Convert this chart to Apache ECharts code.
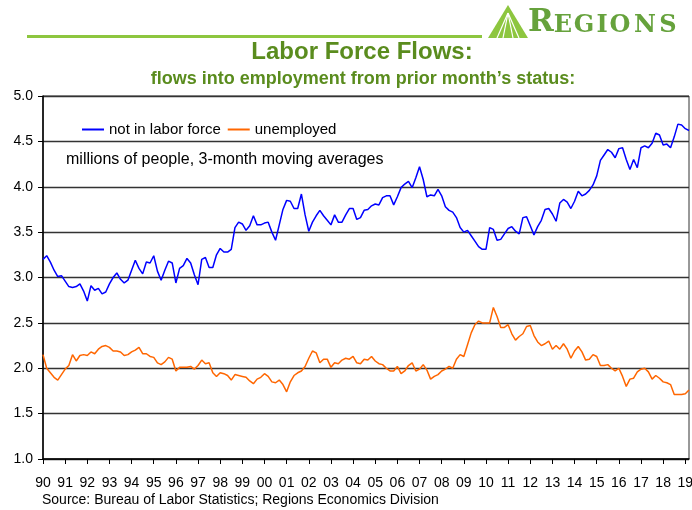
<!DOCTYPE html>
<html>
<head>
<meta charset="utf-8">
<script src="https://cdn.jsdelivr.net/npm/echarts@6/dist/echarts.min.js"></script>
<style>
  html, body { margin: 0; padding: 0; background: #fff; }
  #chart { width: 692px; height: 510px; }
</style>
</head>
<body>
<div id="chart"></div>
<script>
// two-month steps, Jan 1990 .. Mar 2019
var yearLabels = ['90','91','92','93','94','95','96','97','98','99','00','01','02','03','04',
  '05','06','07','08','09','10','11','12','13','14','15','16','17','18','19'];
var stepsPerYear = 6;

var notInLaborForce = [
  3.20,3.24,3.17,3.08,3.01,3.02, 2.96,2.90,2.89,2.90,2.93,2.85,
  2.74,2.91,2.86,2.88,2.82,2.84, 2.93,3.00,3.05,2.98,2.94,2.97,
  3.08,3.19,3.10,3.04,3.17,3.16, 3.24,3.07,2.97,3.08,3.18,3.16,
  2.94,3.10,3.13,3.21,3.16,3.03, 2.92,3.20,3.22,3.11,3.11,3.25,
  3.32,3.28,3.28,3.31,3.55,3.61, 3.59,3.52,3.57,3.68,3.58,3.58,
  3.60,3.61,3.50,3.41,3.58,3.75, 3.85,3.84,3.76,3.76,3.92,3.69,
  3.51,3.61,3.68,3.74,3.68,3.63, 3.58,3.69,3.61,3.61,3.69,3.76,
  3.76,3.64,3.66,3.74,3.75,3.79, 3.81,3.80,3.88,3.90,3.90,3.80,
  3.89,3.99,4.03,4.06,3.99,4.10, 4.22,4.08,3.89,3.91,3.90,3.97,
  3.90,3.78,3.74,3.72,3.66,3.55, 3.50,3.52,3.46,3.40,3.34,3.31,
  3.31,3.55,3.53,3.41,3.42,3.48, 3.54,3.56,3.51,3.48,3.66,3.67,
  3.57,3.47,3.56,3.63,3.75,3.76, 3.70,3.62,3.82,3.86,3.83,3.76,
  3.84,3.95,3.90,3.92,3.96,4.02, 4.12,4.29,4.35,4.41,4.38,4.32,
  4.42,4.43,4.30,4.19,4.30,4.21, 4.43,4.45,4.43,4.48,4.59,4.57,
  4.46,4.47,4.43,4.55,4.69,4.68, 4.64,4.62
];

var unemployed = [
  2.15,2.00,1.95,1.90,1.87,1.93, 1.99,2.03,2.15,2.08,2.14,2.15,
  2.14,2.18,2.16,2.21,2.24,2.25, 2.23,2.19,2.19,2.18,2.14,2.15,
  2.18,2.20,2.23,2.16,2.16,2.13, 2.12,2.06,2.04,2.07,2.12,2.10,
  1.97,2.01,2.01,2.01,2.02,1.99, 2.03,2.09,2.05,2.06,1.95,1.91,
  1.95,1.94,1.92,1.87,1.93,1.92, 1.91,1.90,1.86,1.83,1.88,1.90,
  1.94,1.91,1.85,1.84,1.87,1.82, 1.74,1.85,1.92,1.95,1.97,2.02,
  2.11,2.19,2.17,2.06,2.10,2.10, 2.01,2.06,2.05,2.09,2.11,2.10,
  2.13,2.06,2.05,2.10,2.09,2.13, 2.08,2.05,2.04,2.00,1.97,1.97,
  2.02,1.94,1.97,2.03,2.06,1.97, 1.99,2.04,1.98,1.88,1.91,1.93,
  1.97,1.99,2.02,2.00,2.10,2.15, 2.13,2.26,2.39,2.48,2.52,2.50,
  2.50,2.50,2.67,2.57,2.45,2.45, 2.48,2.38,2.31,2.35,2.38,2.46,
  2.47,2.36,2.29,2.25,2.27,2.30, 2.21,2.25,2.21,2.27,2.21,2.11,
  2.19,2.24,2.18,2.09,2.10,2.15, 2.13,2.03,2.03,2.04,2.00,1.97,
  2.00,1.91,1.80,1.88,1.89,1.96, 1.99,2.00,1.96,1.88,1.92,1.89,
  1.85,1.84,1.82,1.71,1.71,1.71, 1.72,1.76
];

var categories = notInLaborForce.map(function (v, i) {
  return yearLabels[Math.floor(i / stepsPerYear)] + '-' + (i % stepsPerYear);
});

var FONT = '"Liberation Sans", Arial, sans-serif';
var SERIF = '"DejaVu Serif", "Liberation Serif", serif';
var chart = echarts.init(document.getElementById('chart'));

function isYearStart(i) { return i % stepsPerYear === 0; }

// logo letters, small caps
var logoLetters = [
  ['R', 541, 31], ['E', 563, 24], ['G', 584, 24], ['I', 602, 24],
  ['O', 620, 24], ['N', 645, 24], ['S', 668, 24]
];
var logo = logoLetters.map(function (l) {
  return { type: 'text', x: l[1], y: 38, style: { text: l[0], align: 'center', verticalAlign: 'bottom',
    fontFamily: SERIF, fontWeight: 'bold', fontSize: l[2], fill: '#66a23c' } };
});

var option = {
  animation: false,
  backgroundColor: '#fff',
  grid: { left: 43, right: 3, top: 96, bottom: 51, outerBoundsMode: 'none', containLabel: false,
    show: true, borderColor: '#333', borderWidth: 1 },
  legend: {
    left: 77, top: 117, icon: 'rect', itemWidth: 22, itemHeight: 2, itemGap: 7,
    textStyle: { fontFamily: FONT, fontSize: 15, color: '#000' },
    data: ['not in labor force', 'unemployed']
  },
  xAxis: {
    type: 'category', data: categories, boundaryGap: false,
    axisLine: { lineStyle: { color: '#000', width: 1.5 } },
    axisTick: { interval: isYearStart, length: 5, lineStyle: { color: '#000' } },
    axisLabel: {
      interval: isYearStart, align: 'center', margin: 17,
      fontFamily: FONT, fontSize: 14, color: '#000',
      formatter: function (v) { return v.split('-')[0]; }
    },
    splitLine: { show: false }
  },
  yAxis: {
    type: 'value', min: 1, max: 5, interval: 0.5,
    axisLine: { show: true, lineStyle: { color: '#000', width: 1.5 } },
    axisTick: { show: true, length: 5, lineStyle: { color: '#000' } },
    axisLabel: { fontFamily: FONT, fontSize: 14, color: '#000', margin: 10,
      formatter: function (v) { return v.toFixed(1); } },
    splitLine: { lineStyle: { color: '#333', width: 1.3 } }
  },
  graphic: [
    { type: 'rect', shape: { x: 27, y: 35, width: 455, height: 3 }, style: { fill: '#8dc63f' } },
    { type: 'polygon', shape: { points: [[508, 5], [488, 38], [528, 38]] }, style: { fill: '#8dc63f' } },
    { type: 'line', shape: { x1: 508, y1: 13, x2: 497, y2: 38 }, style: { stroke: '#fff', lineWidth: 1.2 } },
    { type: 'line', shape: { x1: 508, y1: 13, x2: 503, y2: 38 }, style: { stroke: '#fff', lineWidth: 1.2 } },
    { type: 'line', shape: { x1: 508, y1: 13, x2: 513, y2: 38 }, style: { stroke: '#fff', lineWidth: 1.2 } },
    { type: 'line', shape: { x1: 508, y1: 13, x2: 519, y2: 38 }, style: { stroke: '#fff', lineWidth: 1.2 } },
    { type: 'text', x: 362, y: 52, style: { text: 'Labor Force Flows:', align: 'center', verticalAlign: 'middle',
        fontFamily: FONT, fontWeight: 'bold', fontSize: 24, fill: '#5a8c1e' } },
    { type: 'text', x: 363, y: 79, style: { text: 'flows into employment from prior month\u2019s status:', align: 'center', verticalAlign: 'middle',
        fontFamily: FONT, fontWeight: 'bold', fontSize: 18, fill: '#5a8c1e' } },
    { type: 'text', x: 66, y: 160, style: { text: 'millions of people, 3-month moving averages', verticalAlign: 'middle',
        fontFamily: FONT, fontSize: 16, fill: '#000' } },
    { type: 'text', x: 42, y: 500, style: { text: 'Source: Bureau of Labor Statistics; Regions Economics Division', verticalAlign: 'middle',
        fontFamily: FONT, fontSize: 14, fill: '#000' } }
  ].concat(logo),
  series: [
    { name: 'not in labor force', type: 'line', data: notInLaborForce, symbol: 'none',
      lineStyle: { color: '#0000ff', width: 1.5 }, itemStyle: { color: '#0000ff' } },
    { name: 'unemployed', type: 'line', data: unemployed, symbol: 'none',
      lineStyle: { color: '#ff6600', width: 1.5 }, itemStyle: { color: '#ff6600' } }
  ]
};

chart.setOption(option);
</script>
</body>
</html>
